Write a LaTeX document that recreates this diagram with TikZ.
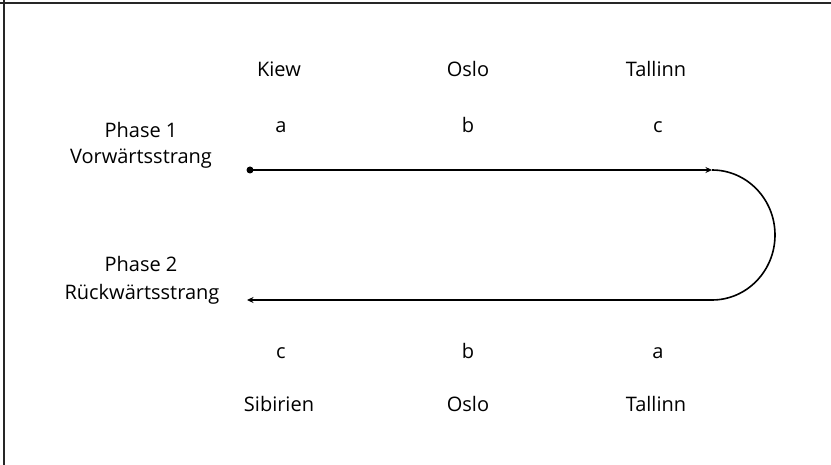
\documentclass[tikz,border=0pt]{standalone}
\usepackage{fontspec}
\setmainfont{Open Sans}
\usetikzlibrary{arrows.meta}
\begin{document}
\begin{tikzpicture}[x=1pt,y=-1pt,
  lbl/.style={anchor=base,inner sep=0pt,font=\fontsize{20}{23}\selectfont},
  strand/.style={line width=1.6pt,black},
  tip/.style={-{Stealth[length=6.5pt,width=6pt]}},
  frame/.style={line width=2pt,black!85}]
\useasboundingbox (0,0) rectangle (831,465);
% frame (top and left only)
\draw[frame] (0,3) -- (831,3);
\draw[frame] (4,0) -- (4,465);
% top labels
\node[lbl] (kiew) at (279,77) {Kiew};
\node[lbl] (oslo1) at (468,77) {Oslo};
\node[lbl] (tall1) at (656,77) {Tallinn};
\node[lbl] (a1) at (281,133) {a};
\node[lbl] (b1) at (468,133) {b};
\node[lbl] (c1) at (658,133) {c};
% phase labels
\node[lbl] (p1) at (141,138) {Phase 1};
\node[lbl] (v1) at (141,164) {Vorwärtsstrang};
\node[lbl] (p2) at (141,272) {Phase 2};
\node[lbl] (r2) at (142,300) {Rückwärtsstrang};
% bottom labels
\node[lbl] (c2) at (281,359) {c};
\node[lbl] (b2) at (468,359) {b};
\node[lbl] (a2) at (658,359) {a};
\node[lbl] (sib) at (279,411) {Sibirien};
\node[lbl] (oslo2) at (468,411) {Oslo};
\node[lbl] (tall2) at (656,411) {Tallinn};
% strands
\node[circle,fill=black,inner sep=0pt,minimum size=7pt] (dot) at (250,170) {};
\coordinate (e1) at (712,170);
\coordinate (s2) at (712,300);
\coordinate (e2) at (247,300);
\draw[strand,tip] (dot.center) -- (e1);
\draw[strand] (e1) arc[start angle=-90,end angle=90,x radius=63,y radius=65];
\draw[strand,tip] (s2) -- (e2);
\end{tikzpicture}
\end{document}
